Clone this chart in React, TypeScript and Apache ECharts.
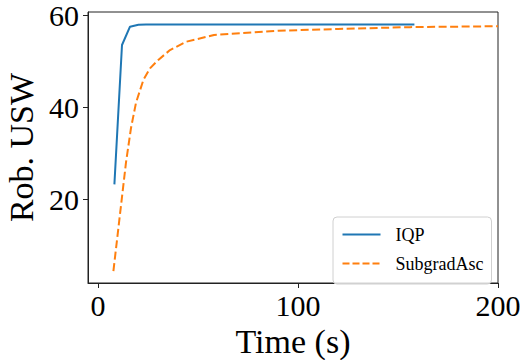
import React, { useEffect, useRef } from "react";
import * as echarts from "echarts";

const iqpTime = [8.2, 12, 16, 20.2, 24, 40, 80, 120, 158.2];
const iqpValue = [23.2, 53.6, 57.6, 58.0, 58.1, 58.1, 58.1, 58.1, 58.1];

const sgTime = [7.7, 14, 16.5, 19, 22.7, 26, 30, 36, 44, 58, 90, 120, 156, 200];
const sgValue = [4.3, 28, 35.5, 41, 46, 48.5, 50.3, 52.5, 54.3, 55.8, 56.7, 57.1, 57.5, 57.7];

const xTicks = [0, 100, 200];
const yTicks = [20, 40, 60];

const FONT = "'Liberation Serif', 'Times New Roman', serif";

export default function App() {
  const ref = useRef<HTMLDivElement>(null);
  useEffect(() => {
    if (!ref.current) return;
    const chart = echarts.init(ref.current, null, { renderer: "svg" });
    chart.setOption({
      animation: false,
      backgroundColor: "#ffffff",
      grid: {
        left: 88,
        top: 12,
        right: 25,
        bottom: 77,
        show: true,
        borderColor: "#222",
        borderWidth: 1,
        outerBoundsMode: "none",
        containLabel: false,
      },
      legend: {
        orient: "vertical",
        left: 333,
        top: 217,
        padding: [7, 8, 10, 7],
        itemWidth: 48,
        itemHeight: 16,
        itemGap: 8,
        borderColor: "#d0d0d0",
        borderWidth: 1,
        borderRadius: 4,
        backgroundColor: "rgba(255,255,255,0.8)",
        textStyle: { fontFamily: FONT, fontSize: 18, color: "#000" },
        data: [
          {
            name: "IQP",
            icon: "path://M0,8L38,8M48,0L48,0M48,16L48,16",
            itemStyle: { color: "none", borderColor: "#1f77b4", borderWidth: 2 },
          },
          {
            name: "SubgradAsc",
            icon: "path://M0,8L38,8M48,0L48,0M48,16L48,16",
            itemStyle: { color: "none", borderColor: "#ff7f0e", borderWidth: 2, borderType: [7, 3] },
          },
        ],
      },
      xAxis: {
        type: "value",
        min: -5,
        max: 200,
        name: "Time (s)",
        nameLocation: "middle",
        nameGap: 40,
        nameTextStyle: { fontFamily: FONT, fontSize: 34, color: "#000" },
        axisLine: { show: true, onZero: false, lineStyle: { color: "#222", width: 1 } },
        axisTick: { show: true, customValues: xTicks, length: 5, lineStyle: { color: "#222" } },
        axisLabel: { customValues: xTicks, fontFamily: FONT, fontSize: 30, color: "#000", margin: 7 },
        splitLine: { show: false },
      },
      yAxis: {
        type: "value",
        min: 1.7,
        max: 60.8,
        name: "Rob. USW",
        nameLocation: "middle",
        nameGap: 46,
        nameTextStyle: { fontFamily: FONT, fontSize: 34, color: "#000" },
        axisLine: { show: true, onZero: false, lineStyle: { color: "#222", width: 1 } },
        axisTick: { show: true, customValues: yTicks, length: 5, lineStyle: { color: "#222" } },
        axisLabel: { customValues: yTicks, fontFamily: FONT, fontSize: 30, color: "#000", margin: 9 },
        splitLine: { show: false },
      },
      series: [
        {
          name: "IQP",
          type: "line",
          data: iqpTime.map((t, i) => [t, iqpValue[i]]),
          showSymbol: false,
          symbol: "none",
          lineStyle: { color: "#1f77b4", width: 2 },
          itemStyle: { color: "#1f77b4" },
        },
        {
          name: "SubgradAsc",
          type: "line",
          data: sgTime.map((t, i) => [t, sgValue[i]]),
          showSymbol: false,
          symbol: "none",
          lineStyle: { color: "#ff7f0e", width: 2, type: [8, 3.5] },
          itemStyle: { color: "#ff7f0e" },
        },
      ],
    });
    return () => chart.dispose();
  }, []);
  return <div ref={ref} style={{ width: 523, height: 360, position: "absolute", left: 0, top: 0 }} />;
}
